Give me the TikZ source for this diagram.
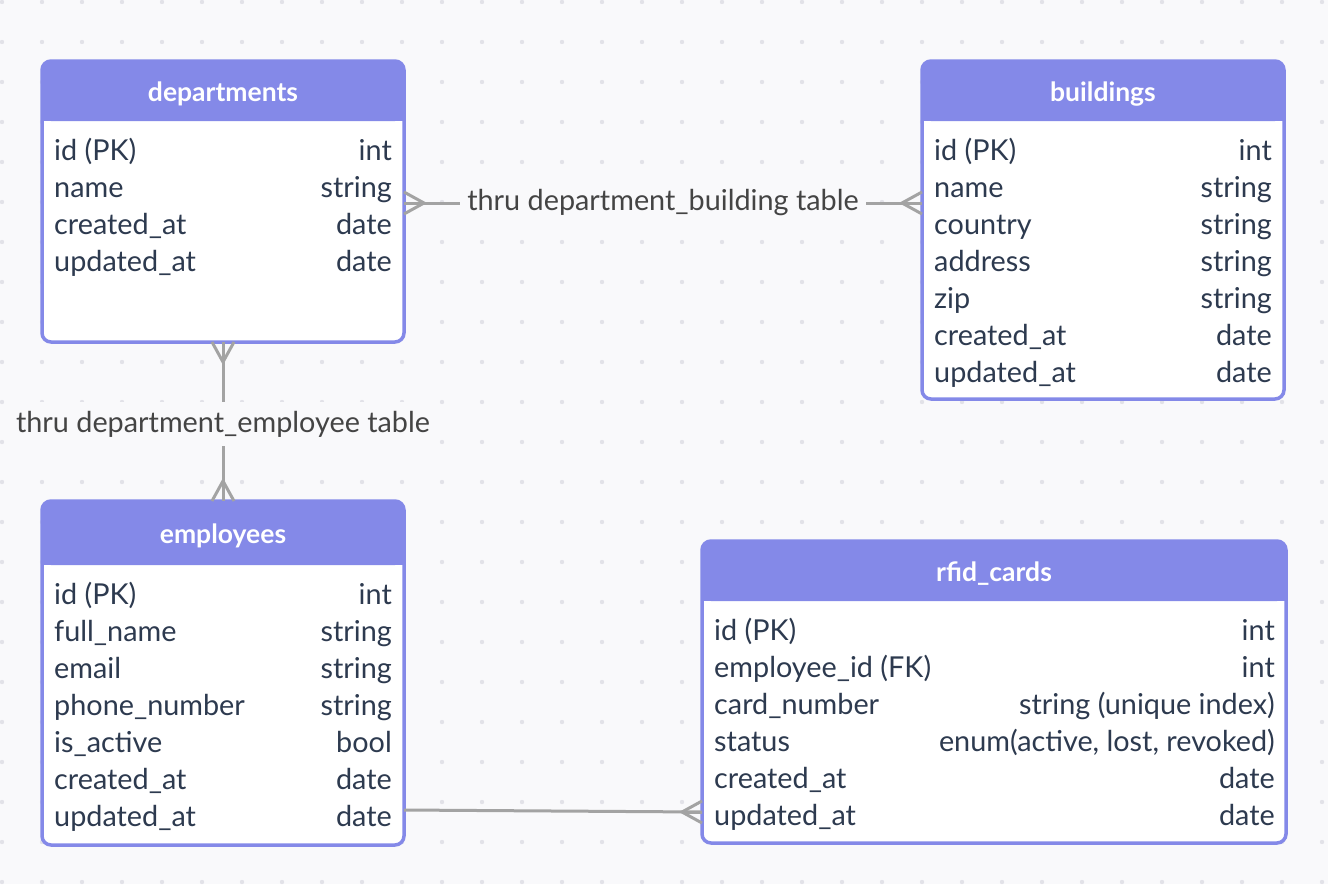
\documentclass[tikz,border=0pt]{standalone}
\usepackage{fontspec}
\setmainfont{Lato}
\usetikzlibrary{calc}
\definecolor{bgc}{HTML}{F9F9FB}
\definecolor{dotc}{HTML}{E2E2E8}
\definecolor{hdr}{HTML}{8489E8}
\definecolor{txtc}{HTML}{2D3A4F}
\definecolor{lblc}{HTML}{444444}
\definecolor{conc}{HTML}{A3A3A3}
\tikzset{
  tblbox/.style={draw=hdr, line width=3.5pt, rounded corners=9pt, inner sep=0pt, outer sep=0pt, anchor=north west},
  ttl/.style={text=white, font=\fontsize{26.5}{30}\selectfont\bfseries, inner sep=0pt, anchor=base},
  cell/.style={text=txtc, font=\fontsize{28.8}{32}\selectfont, inner sep=0pt},
  conn/.style={draw=conc, line width=3pt},
  lbl/.style={fill=bgc, text=lblc, font=\fontsize{28.8}{32}\selectfont, inner xsep=7pt, inner ysep=9pt},
}
% name, x1, y1, x2, y2, header bottom, title
\newcommand\mktable[7]{%
  \fill[white, rounded corners=9pt] (#2,#3) rectangle (#4,#5);
  \fill[hdr, rounded corners=9pt] (#2,#3) rectangle (#4,#6);
  \fill[hdr] (#2,#6-12) rectangle (#4,#6);
  \node[tblbox, minimum width=#4-#2, minimum height=#5-#3] (#1) at (#2,#3) {};
  \node[ttl] (#1t) at ($(#2,#3)!0.5!(#4,#6)+(0,10)$) {#7};
}
% name, xl, xr, y, left, right
\newcommand\trow[6]{%
  \node[cell, anchor=base west] (#1a) at (#2,#4+10.5) {#5};
  \node[cell, anchor=base east] (#1b) at (#3,#4+10.5) {#6};
}
\newcommand\crowfoot[2]{%
  \begin{scope}[shift={(#1)}, rotate=#2]
    \draw[conn] (0,-11) -- (20,0) -- (0,11);
    \draw[conn] (0,0) -- (20,0);
  \end{scope}
}
\begin{document}
\begin{tikzpicture}[x=1pt, y=-1pt]
\useasboundingbox (0,0) rectangle (1328,884);
\fill[bgc] (0,0) rectangle (1328,884);
\foreach \i in {0,...,33} {
  \foreach \j in {0,...,22} {
    \fill[dotc] (2+40*\i, 2+40*\j) circle[radius=2.2pt];
  }
}

% departments
\mktable{dep}{42}{61}{404}{342}{121}{departments}
\trow{d1}{54}{392}{150}{id (PK)}{int}
\trow{d2}{54}{392}{187}{name}{string}
\trow{d3}{54}{392}{224}{created\_at}{date}
\trow{d4}{54}{392}{261}{updated\_at}{date}

% buildings
\mktable{bld}{922}{61}{1284}{399}{121}{buildings}
\trow{b1}{934}{1272}{150}{id (PK)}{int}
\trow{b2}{934}{1272}{187}{name}{string}
\trow{b3}{934}{1272}{224}{country}{string}
\trow{b4}{934}{1272}{261}{address}{string}
\trow{b5}{934}{1272}{298}{zip}{string}
\trow{b6}{934}{1272}{335}{created\_at}{date}
\trow{b7}{934}{1272}{372}{updated\_at}{date}

% employees
\mktable{emp}{42}{501}{404}{845}{565}{employees}
\trow{e1}{54}{392}{594}{id (PK)}{int}
\trow{e2}{54}{392}{631}{full\_name}{string}
\trow{e3}{54}{392}{668}{email}{string}
\trow{e4}{54}{392}{705}{phone\_number}{string}
\trow{e5}{54}{392}{742}{is\_active}{bool}
\trow{e6}{54}{392}{779}{created\_at}{date}
\trow{e7}{54}{392}{816}{updated\_at}{date}

% rfid_cards
\mktable{rf}{702}{541}{1286}{843}{601}{rfid\_cards}
\trow{r1}{714}{1275}{630}{id (PK)}{int}
\trow{r2}{714}{1275}{667}{employee\_id (FK)}{int}
\trow{r3}{714}{1275}{704}{card\_number}{string (unique index)}
\trow{r4}{714}{1275}{741}{status}{enum(active, lost, revoked)}
\trow{r5}{714}{1275}{778}{created\_at}{date}
\trow{r6}{714}{1275}{815}{updated\_at}{date}

% connectors
\coordinate (dbl) at (dep.east |- 0,203);
\coordinate (dbr) at (bld.west |- 0,203);
\draw[conn] (dbl) -- node[lbl] {thru department\_building table} (dbr);
\crowfoot{dbl}{0}
\crowfoot{dbr}{180}

\draw[conn] (dep.south) -- node[lbl, pos=0.515] {thru department\_employee table} (emp.north);
\crowfoot{dep.south}{-90}
\crowfoot{emp.north}{90}

\coordinate (erl) at (emp.east |- 0,810);
\coordinate (err) at (rf.west |- 0,812);
\draw[conn] (erl) -- (err);
\crowfoot{err}{180}
\end{tikzpicture}
\end{document}
